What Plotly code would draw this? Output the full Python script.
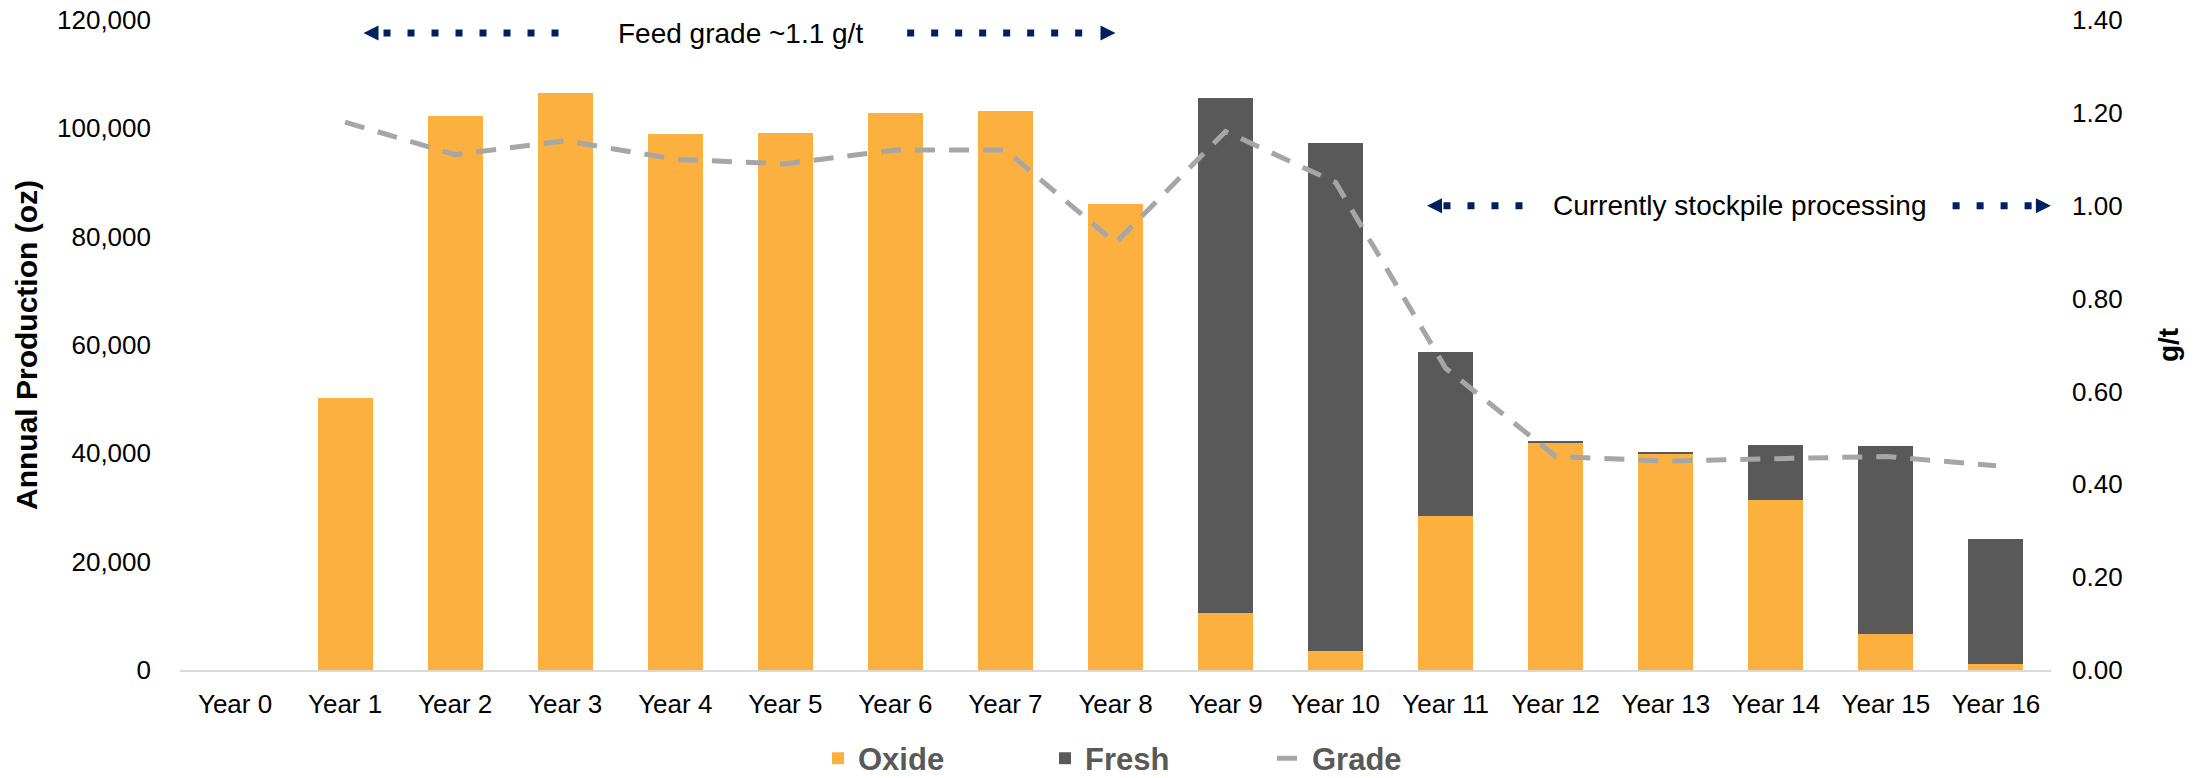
import plotly.graph_objects as go

# Annual gold production by ore type (oz) and feed grade (g/t)
years = ["Year 0", "Year 1", "Year 2", "Year 3", "Year 4", "Year 5", "Year 6",
         "Year 7", "Year 8", "Year 9", "Year 10", "Year 11", "Year 12",
         "Year 13", "Year 14", "Year 15", "Year 16"]
oxide_oz = [0, 50200, 102300, 106600, 98950, 99100, 102850, 103200, 86050,
            10600, 3500, 28500, 41850, 40000, 31400, 6700, 1050]
fresh_oz = [0, 0, 0, 0, 0, 0, 0, 0, 0,
            95050, 93800, 30200, 430, 200, 10200, 34600, 23080]
grade_gt = [None, 1.18, 1.11, 1.14, 1.10, 1.09, 1.12, 1.12, 0.92,
            1.16, 1.05, 0.65, 0.46, 0.45, 0.455, 0.46, 0.44]

y_ticks = [0, 20000, 40000, 60000, 80000, 100000, 120000]
y2_ticks = [0, 0.2, 0.4, 0.6, 0.8, 1.0, 1.2, 1.4]

FONT = "Liberation Sans, Arial, sans-serif"
ORANGE = "#FBB040"
DARK = "#595959"
GREY = "#A6A6A6"
NAVY = "#002060"

fig = go.Figure()
fig.add_trace(go.Bar(x=years, y=oxide_oz, name="Oxide",
                     marker=dict(color=ORANGE, line=dict(width=0))))
fig.add_trace(go.Bar(x=years, y=fresh_oz, name="Fresh",
                     marker=dict(color=DARK, line=dict(width=0))))
fig.add_trace(go.Scatter(x=years, y=grade_gt, name="Grade", yaxis="y2",
                         mode="lines", connectgaps=False,
                         line=dict(color=GREY, width=5, dash="20px,14px")))

# Dotted navy range markers with arrowheads
shapes = []
annotations = []


def dotted(x0, x1, y):
    shapes.append(dict(type="line", xref="x", yref="y2", x0=x0, x1=x1,
                       y0=y, y1=y, line=dict(color=NAVY, width=7,
                                             dash="7px,17px")))


def head(x, y, direction):
    annotations.append(dict(x=x, y=y, xref="x", yref="y2", text="",
                            showarrow=True, arrowhead=2, arrowsize=1.5,
                            arrowwidth=2, arrowcolor=NAVY,
                            ax=12 * direction, ay=0, standoff=0))


def label(x, y, text):
    annotations.append(dict(x=x, y=y, xref="x", yref="y2", text=text,
                            showarrow=False,
                            font=dict(family=FONT, size=28, color="#000000")))


feed_y = 1.372
head(1.167, feed_y, 1)
dotted(1.349, 2.974, feed_y)
label(4.59, feed_y, "Feed grade ~1.1 g/t")
dotted(6.107, 7.751, feed_y)
head(8.0, feed_y, -1)

stock_y = 1.0
head(10.83, stock_y, 1)
dotted(10.98, 11.72, stock_y)
label(13.67, stock_y, "Currently stockpile processing")
dotted(15.606, 16.359, stock_y)
head(16.499, stock_y, -1)

fig.update_layout(
    width=2203, height=778,
    margin=dict(l=180, r=152, t=20, b=108),
    paper_bgcolor="white", plot_bgcolor="white",
    barmode="stack", bargap=0.5,
    font=dict(family=FONT, size=26, color="#000000"),
    shapes=shapes, annotations=annotations,
    legend=dict(orientation="h", x=0.341, xanchor="left",
                yref="container", y=0.025, yanchor="middle",
                traceorder="normal", entrywidth=182,
                font=dict(family=FONT, size=31, color="#595959",
                          weight="bold")),
    xaxis=dict(type="category", range=[-0.5, 16.5], showgrid=False,
               showline=True, linecolor="#D9D9D9", linewidth=2,
               ticks="", ticklabelstandoff=10, automargin=False,
               tickfont=dict(family=FONT, size=26, color="#000000")),
    yaxis=dict(range=[0, 120000], tickvals=y_ticks, tickformat=",",
               showgrid=False, zeroline=False, showline=False,
               ticks="", ticklabelstandoff=28, automargin=False,
               tickfont=dict(family=FONT, size=26, color="#000000"),
               title=dict(text="Annual Production (oz)", standoff=10,
                          font=dict(family=FONT, size=30, color="#000000",
                                    weight="bold"))),
    yaxis2=dict(range=[0, 1.4], tickvals=y2_ticks, tickformat=".2f",
                overlaying="y", side="right", showgrid=False,
                zeroline=False, showline=False, ticks="",
                ticklabelstandoff=20, automargin=False,
                tickfont=dict(family=FONT, size=26, color="#000000"),
                title=dict(text="g/t", standoff=36,
                           font=dict(family=FONT, size=28, color="#000000",
                                     weight="bold"))),
    showlegend=True,
)

fig.write_html("out.html")
